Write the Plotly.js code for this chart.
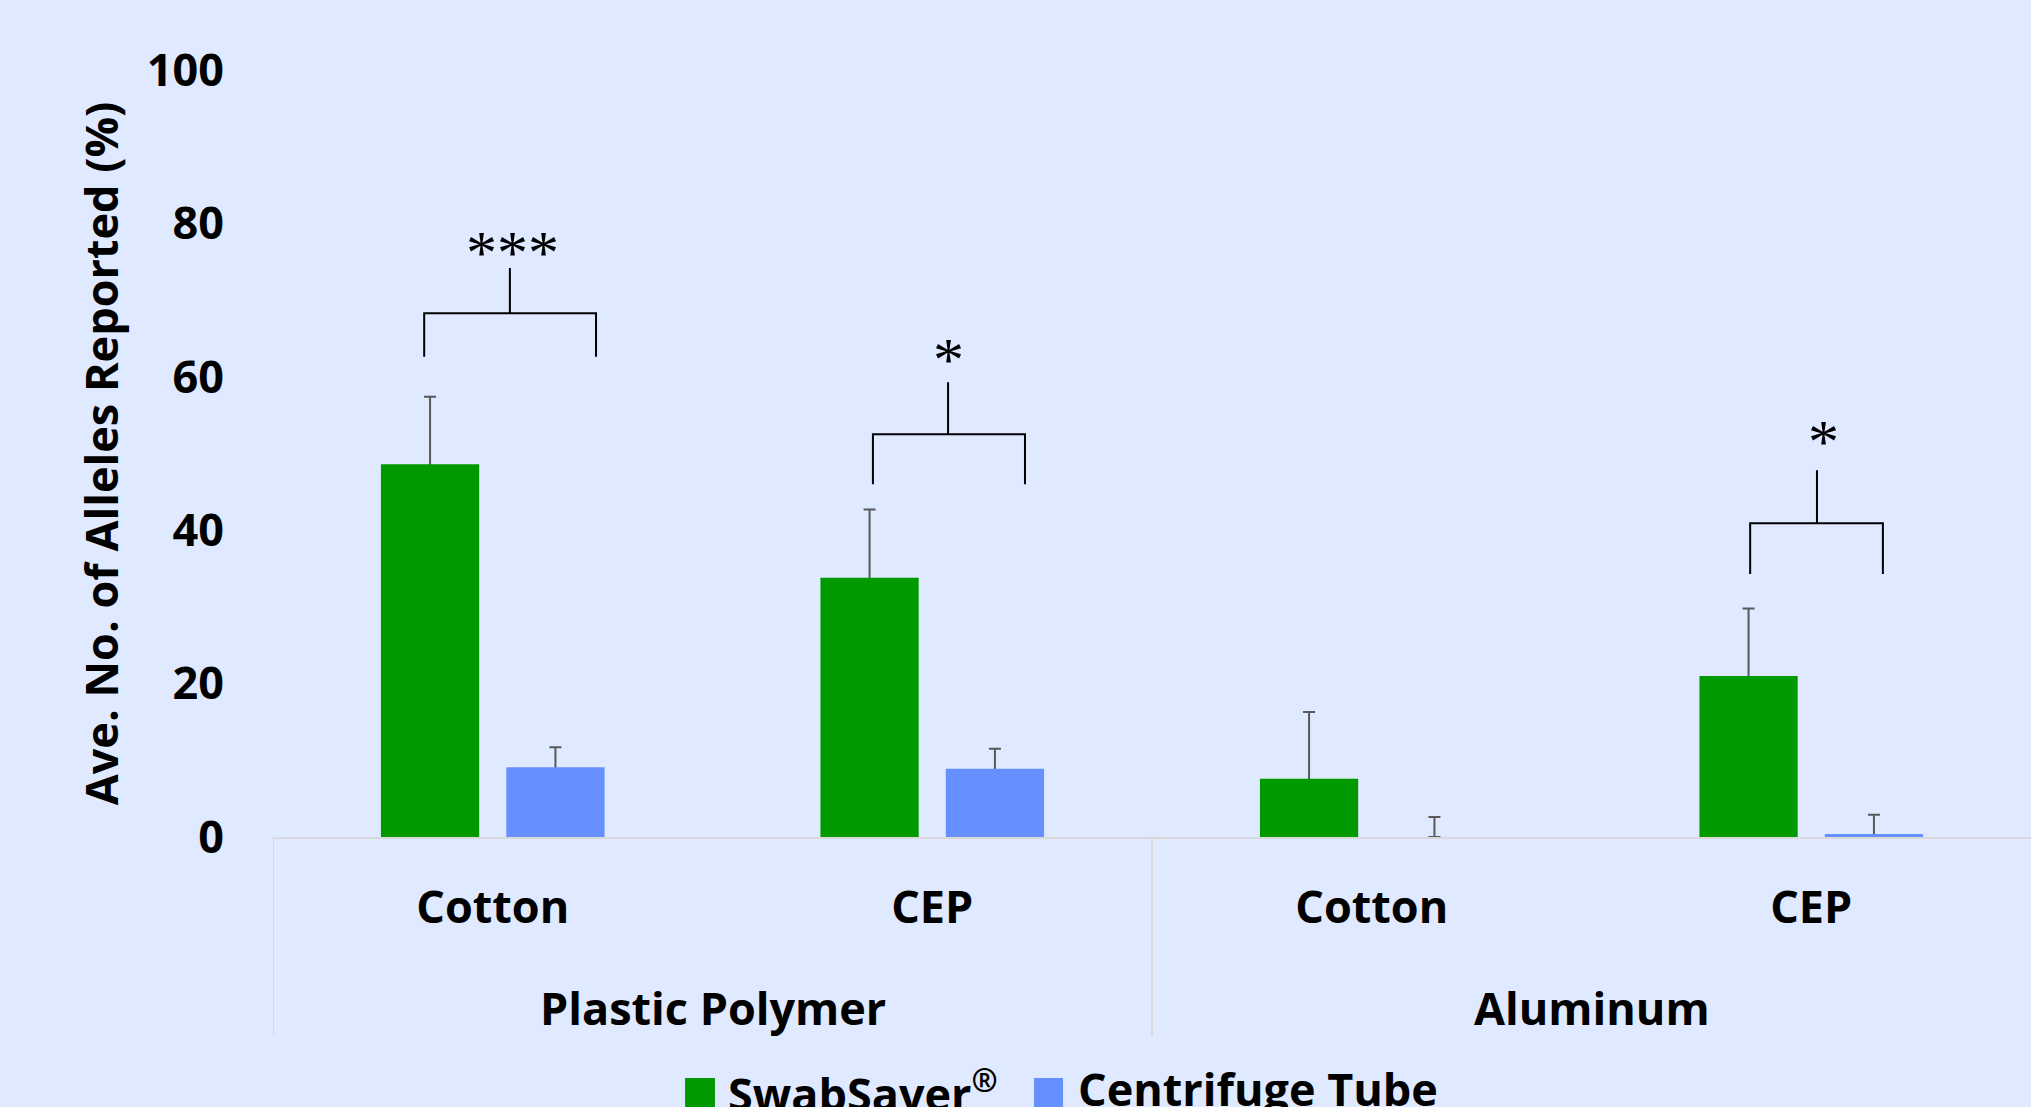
<!DOCTYPE html>
<html>
<head>
<meta charset="utf-8">
<script src="https://cdn.plot.ly/plotly-3.0.1.min.js"></script>
<style>
  html, body { margin: 0; padding: 0; background: #DFE9FF; }
  #chart { width: 2031px; height: 1107px; }
</style>
</head>
<body>
<div id="chart"></div>
<script>
// Surface (outer group) and swab type (inner label) for each bar pair
const surfaces  = ['Plastic Polymer', 'Plastic Polymer', 'Aluminum', 'Aluminum'];
const swabTypes = ['Cotton', 'CEP', 'Cotton', 'CEP'];

// Series names
const seriesNames = ['SwabSaver<sup>®</sup>', 'Centrifuge Tube'];

// Average percentage of alleles reported, with +SD
const swabSaverMean = [48.6, 33.8, 7.6, 21.0];
const swabSaverErr  = [8.8, 8.9, 8.7, 8.8];
const tubeMean      = [9.1, 8.9, 0.0, 0.4];
const tubeErr       = [2.6, 2.6, 2.6, 2.5];

// Y axis ticks
const yTicks = [0, 20, 40, 60, 80, 100];

// Significance markers per compared pair
const sigCategory = [0, 1, 3];
const sigLabels   = ['***', '*', '*'];

// Bracket geometry (x offsets from the category centre, y in axis units)
const bracketGeom = [
  { left: -0.156, right: 0.235, stem: 0.039, legY: 62.6, barY: 68.3, stemY: 74.2, labelX: 0.046, labelY: 77.0 },
  { left: -0.135, right: 0.211, stem: 0.036, legY: 46.0, barY: 52.5, stemY: 59.3, labelX: 0.038, labelY: 63.1 },
  { left: -0.139, right: 0.163, stem: 0.013, legY: 34.3, barY: 40.9, stemY: 47.8, labelX: 0.027, labelY: 52.4 }
];

const GREEN = '#009900';
const BLUE  = '#6690FF';
const BG    = '#DFE9FF';
const ERRC  = '#595959';
const AXISC = '#D9D9D9';
const FONT  = 'Open Sans, Noto Sans, sans-serif';
const boldFont = (size) => ({ family: FONT, size: size, color: '#000000', weight: 'bold' });

// One category per bar pair; the axis shows the swab type, the surface is written below
const xKeys = surfaces.map((s, i) => s + ' | ' + swabTypes[i]);

// Carrier traces draw only the error whiskers (plus-direction) underneath the bars
function whiskers(y, err, group) {
  return {
    type: 'bar', x: xKeys, y: y, offsetgroup: group,
    marker: { color: 'rgba(0,0,0,0)', line: { width: 0 } },
    error_y: { type: 'data', symmetric: false, array: err, arrayminus: y,
               color: ERRC, thickness: 2, width: 6 },
    hoverinfo: 'skip', showlegend: false
  };
}

function bars(y, color, group, name) {
  return {
    type: 'bar', x: xKeys, y: y, offsetgroup: group, name: name,
    marker: { color: color, line: { width: 0 } },
    showlegend: false
  };
}

const data = [
  whiskers(swabSaverMean, swabSaverErr, 'ss'),
  whiskers(tubeMean, tubeErr, 'ct'),
  bars(swabSaverMean, GREEN, 'ss', seriesNames[0]),
  bars(tubeMean, BLUE, 'ct', seriesNames[1])
];

const shapes = [];
const annotations = [];

// Surface groups: label under their categories, divider at the start of each group
const groupNames = [...new Set(surfaces)];
groupNames.forEach((g) => {
  const idx = surfaces.map((s, i) => (s === g ? i : -1)).filter((i) => i >= 0);
  const first = Math.min(...idx), last = Math.max(...idx);
  annotations.push({
    xref: 'x', yref: 'paper', x: (first + last) / 2, y: -0.2229,
    text: g, showarrow: false, xanchor: 'center', yanchor: 'middle',
    font: boldFont(45)
  });
  shapes.push({
    type: 'line', xref: 'x', yref: 'paper',
    x0: first - 0.5, x1: first - 0.5, y0: 0, y1: -0.2595,
    line: { color: AXISC, width: 2 }
  });
});

// Significance brackets
bracketGeom.forEach((g, i) => {
  const c = sigCategory[i];
  shapes.push({
    type: 'path', xref: 'x', yref: 'y',
    path: `M${c + g.left},${g.legY} V${g.barY} H${c + g.right} V${g.legY} ` +
          `M${c + g.stem},${g.barY} V${g.stemY}`,
    line: { color: '#000000', width: 2 }
  });
  annotations.push({
    xref: 'x', yref: 'y', x: c + g.labelX, y: g.labelY,
    text: sigLabels[i], showarrow: false, xanchor: 'center', yanchor: 'middle',
    yshift: -6,
    font: { family: 'Liberation Serif, DejaVu Serif, serif', size: 62, color: '#000000' }
  });
});

// Legend drawn along the bottom edge
const legendSwatches = [
  { color: GREEN, x0: 0.2344, x1: 0.2514, textX: 0.2575 },
  { color: BLUE,  x0: 0.4329, x1: 0.4494, textX: 0.4565 }
];
legendSwatches.forEach((s, i) => {
  shapes.push({
    type: 'rect', xref: 'paper', yref: 'paper',
    x0: s.x0, x1: s.x1, y0: -0.3142, y1: -0.40,
    fillcolor: s.color, line: { width: 0 }
  });
  annotations.push({
    xref: 'paper', yref: 'paper', x: s.textX, y: -0.285,
    text: seriesNames[i], showarrow: false, xanchor: 'left', yanchor: 'top',
    font: boldFont(45)
  });
});

const layout = {
  width: 2031, height: 1107,
  paper_bgcolor: BG, plot_bgcolor: BG,
  margin: { l: 273, r: 0, t: 70, b: 270, autoexpand: false },
  barmode: 'group', bargap: 0.4294, bargroupgap: 0.2165,
  showlegend: false,
  font: { family: FONT, size: 45, color: '#000000' },
  xaxis: {
    type: 'category', range: [-0.5, 3.5],
    tickvals: xKeys, ticktext: swabTypes,
    showline: true, linecolor: AXISC, linewidth: 2,
    showgrid: false, zeroline: false, ticks: '',
    ticklabelstandoff: 30,
    tickfont: boldFont(45)
  },
  yaxis: {
    range: [0, 100], tickvals: yTicks, ticktext: yTicks.map(String),
    showgrid: false, zeroline: false, showline: false, ticks: '',
    ticklabelstandoff: 48,
    tickfont: boldFont(45),
    title: { text: 'Ave. No. of Alleles Reported (%)', standoff: 14, font: boldFont(45) }
  },
  shapes: shapes,
  annotations: annotations
};

Plotly.newPlot('chart', data, layout, { displayModeBar: false, staticPlot: true });
</script>
</body>
</html>
